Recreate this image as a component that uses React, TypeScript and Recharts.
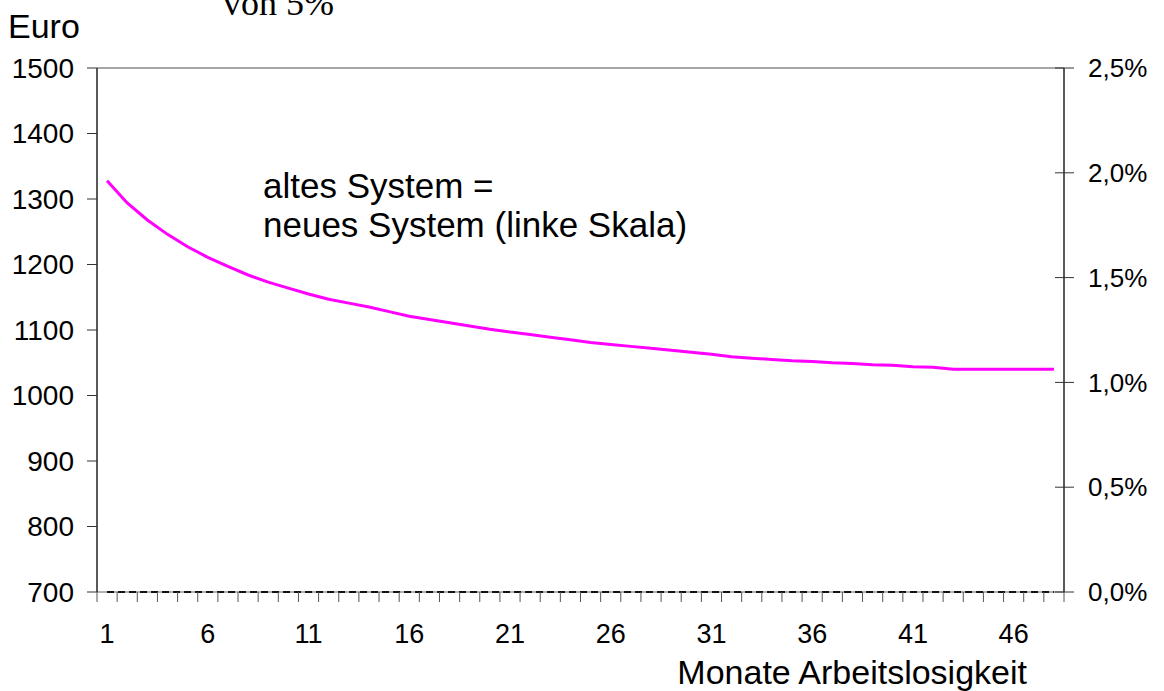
import { Line, LineChart, ReferenceLine, XAxis, YAxis } from "recharts";

const months = Array.from({ length: 48 }, (_, i) => i + 1);

// Euro, linke Skala (altes System = neues System)
const euro = [
  1328, 1294, 1268, 1246, 1227, 1211, 1197, 1184, 1173, 1164, 1155, 1147,
  1141, 1135, 1128, 1121, 1116, 1111, 1106, 1101, 1097, 1093, 1089, 1085,
  1081, 1078, 1075, 1072, 1069, 1066, 1063, 1059, 1057, 1055, 1053, 1052,
  1050, 1049, 1047, 1046, 1044, 1043, 1040, 1040, 1040, 1040, 1040, 1040,
];

// Differenz in %, rechte Skala
const differenz = [
  0, 0, 0, 0, 0, 0, 0, 0, 0, 0, 0, 0, 0, 0, 0, 0, 0, 0, 0, 0, 0, 0, 0, 0,
  0, 0, 0, 0, 0, 0, 0, 0, 0, 0, 0, 0, 0, 0, 0, 0, 0, 0, 0, 0, 0, 0, 0, 0,
];

const euroTicks = [700, 800, 900, 1000, 1100, 1200, 1300, 1400, 1500];
const pctTicks = [0, 0.005, 0.01, 0.015, 0.02, 0.025];

const data = months.map((m, i) => ({ m, euro: euro[i], differenz: differenz[i] }));

const boundaries = [0.5, ...months.map((m) => m + 0.5)];
const labelMonths = months.filter((m) => (m - 1) % 5 === 0);
const xTicks = [...boundaries, ...labelMonths].sort((a, b) => a - b);

const FONT = "'Liberation Sans', Arial, sans-serif";

const XTick = ({ x, y, payload }: any) => {
  const v = payload.value;
  if (v % 1 !== 0) {
    return <line x1={x} x2={x} y1={y} y2={y + 10} stroke="#555" strokeWidth={1} />;
  }
  return (
    <text x={x} y={y + 51} textAnchor="middle" fontSize={27} fontFamily={FONT} fill="#000">
      {v}
    </text>
  );
};

const LeftTick = ({ x, y, payload }: any) => (
  <g>
    <line x1={x - 10} x2={x} y1={y} y2={y} stroke="#333" strokeWidth={1} />
    <text x={x - 23} y={y} dy="0.35em" textAnchor="end" fontSize={28} fontFamily={FONT} fill="#000">
      {payload.value}
    </text>
  </g>
);

const RightTick = ({ x, y, payload }: any) => (
  <g>
    <line x1={x - 9} x2={x + 10} y1={y} y2={y} stroke="#333" strokeWidth={1} />
    <text x={x + 24} y={y} dy="0.35em" textAnchor="start" fontSize={26} fontFamily={FONT} fill="#000">
      {(payload.value * 100).toFixed(1).replace(".", ",") + "%"}
    </text>
  </g>
);

export default function App() {
  return (
    <div style={{ position: "absolute", left: 0, top: 0, width: 1164, height: 691, background: "#fff" }}>
      <LineChart width={1164} height={691} data={data} margin={{ top: 68, right: 0, bottom: 0, left: 0 }}>
        <XAxis
          dataKey="m"
          type="number"
          domain={[0.5, 48.5]}
          ticks={xTicks}
          interval={0}
          tickSize={0}
          tickMargin={0}
          tickLine={false}
          tick={<XTick />}
          height={99}
          axisLine={false}
        />
        <YAxis
          yAxisId="left"
          domain={[700, 1500]}
          ticks={euroTicks}
          interval={0}
          width={97}
          tickSize={0}
          tickMargin={0}
          tickLine={false}
          tick={<LeftTick />}
          axisLine={{ stroke: "#222", strokeWidth: 1.5 }}
        />
        <YAxis
          yAxisId="right"
          orientation="right"
          domain={[0, 0.025]}
          ticks={pctTicks}
          interval={0}
          width={100}
          tickSize={0}
          tickMargin={0}
          tickLine={false}
          tick={<RightTick />}
          axisLine={{ stroke: "#222", strokeWidth: 1.5 }}
        />
        <ReferenceLine yAxisId="left" y={1500} stroke="#888" strokeWidth={1.5} />
        <ReferenceLine yAxisId="left" y={700} stroke="#999" strokeWidth={1.5} />
        <Line
          yAxisId="right"
          type="linear"
          dataKey="differenz"
          stroke="#111"
          strokeWidth={2}
          strokeDasharray="7 4"
          dot={false}
          isAnimationActive={false}
        />
        <Line
          yAxisId="left"
          type="linear"
          dataKey="euro"
          stroke="#f0f"
          strokeWidth={3}
          dot={false}
          isAnimationActive={false}
        />
      </LineChart>
      <svg
        width={1164}
        height={691}
        style={{ position: "absolute", left: 0, top: 0, pointerEvents: "none" }}
      >
        <text x={223} y={15} fontSize={36} fontFamily="'Liberation Serif', 'Times New Roman', serif" fill="#000">
          von 5%
        </text>
        <text x={8} y={38} fontSize={34} fontFamily={FONT} fill="#000">
          Euro
        </text>
        <text x={263} y={198} fontSize={35} fontFamily={FONT} fill="#000">
          altes System =
        </text>
        <text x={263} y={237} fontSize={35} fontFamily={FONT} fill="#000">
          neues System (linke Skala)
        </text>
        <text x={1027} y={684} textAnchor="end" fontSize={34} fontFamily={FONT} fill="#000">
          Monate Arbeitslosigkeit
        </text>
      </svg>
    </div>
  );
}
